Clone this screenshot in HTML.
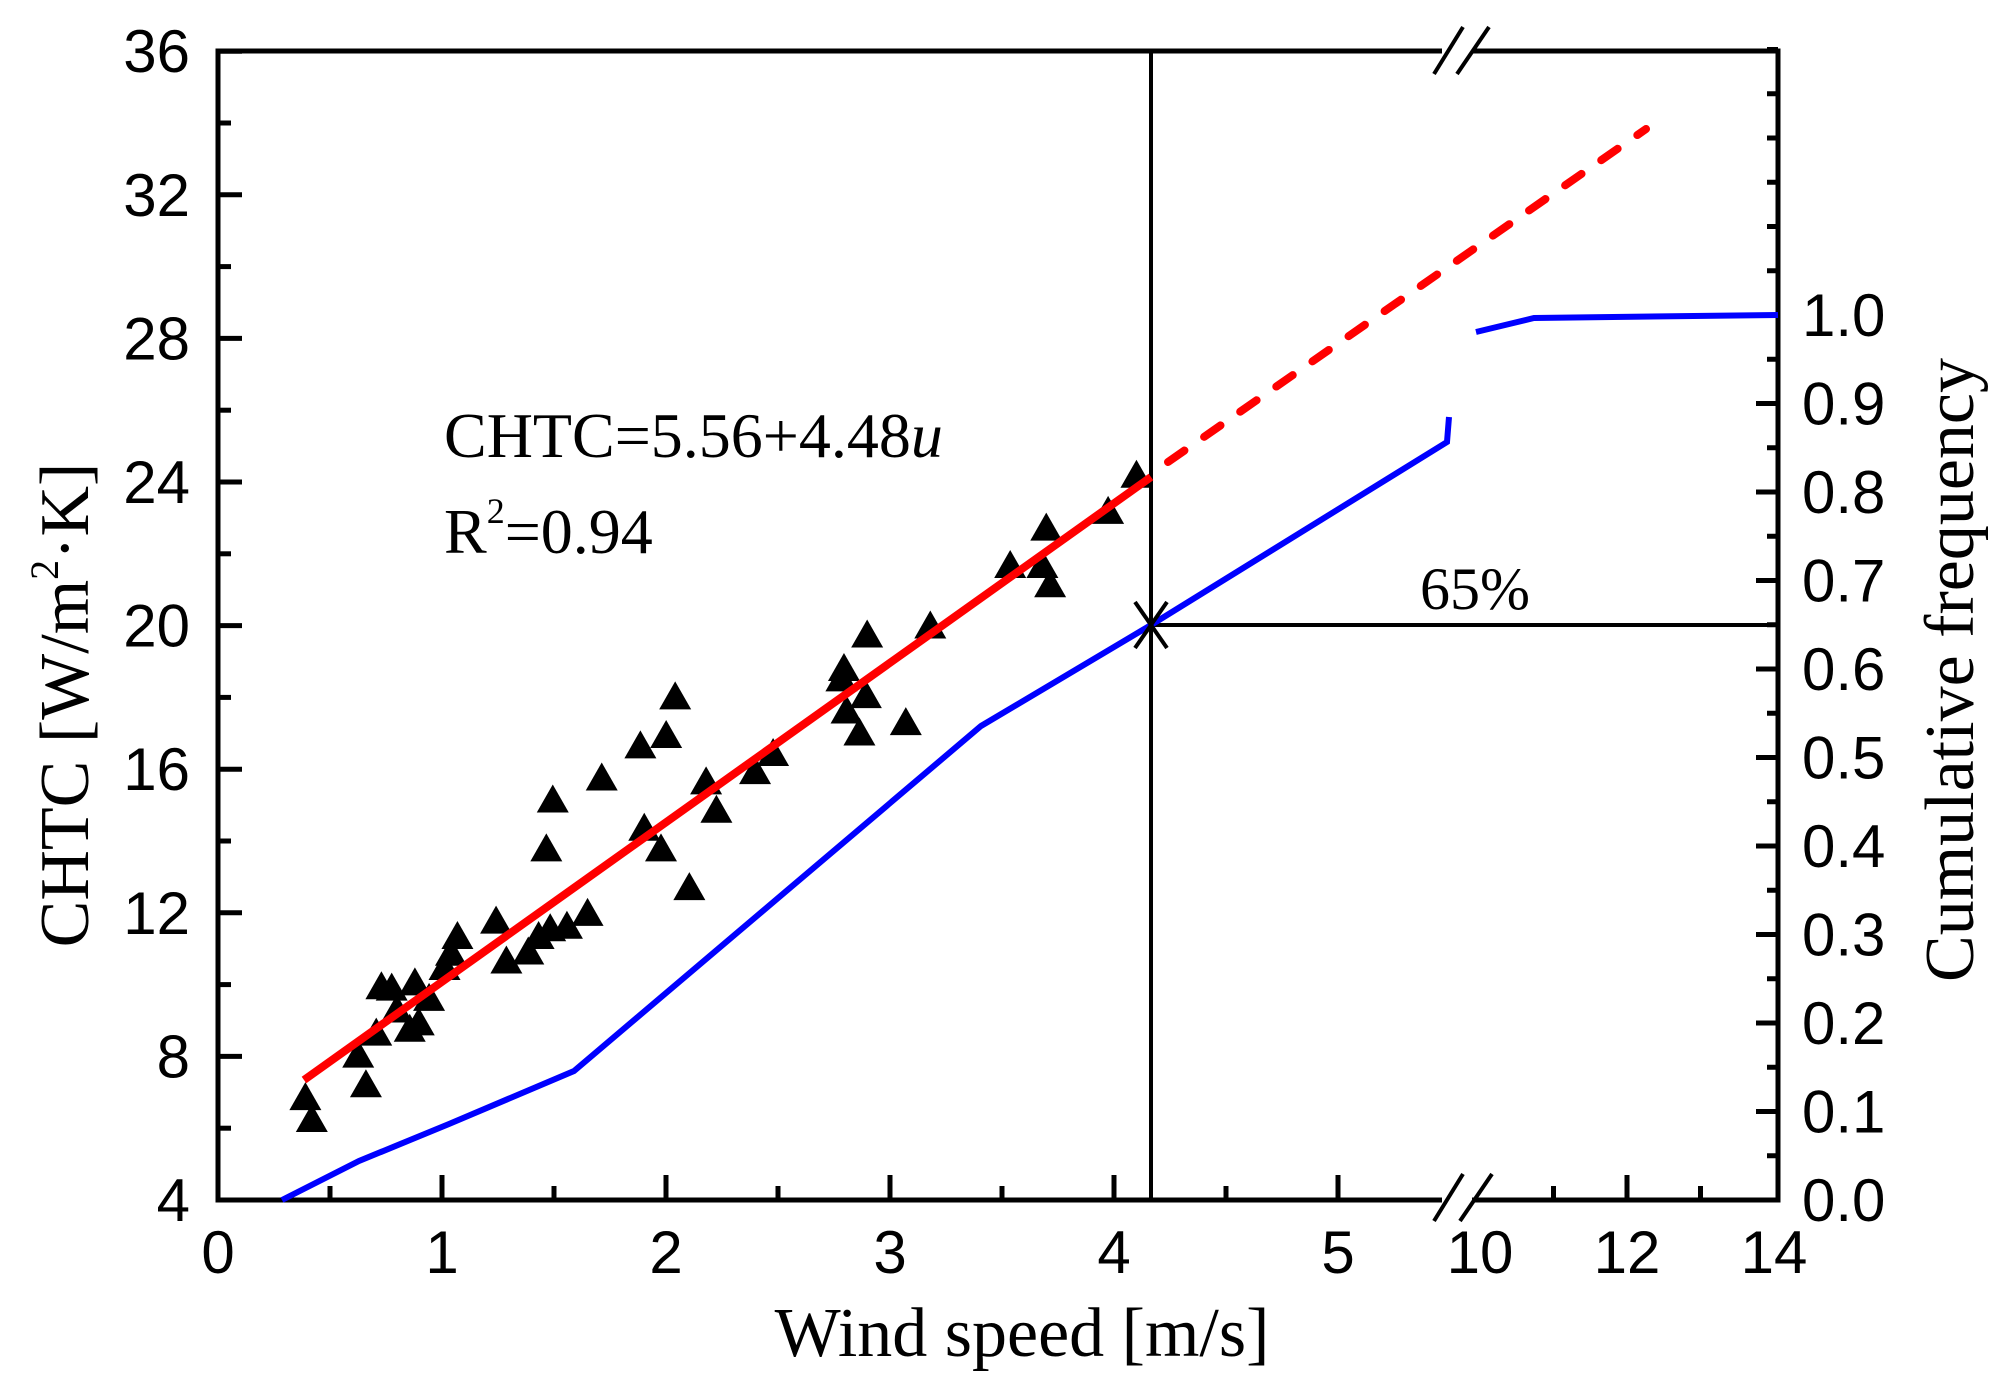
<!DOCTYPE html>
<html><head><meta charset="utf-8"><style>
html,body{margin:0;padding:0;background:#fff;}
svg{display:block;}
text{font-family:"Liberation Sans",Arial,sans-serif;fill:#000;}
.serif{font-family:"Liberation Serif","Times New Roman",serif;}
</style></head><body>
<svg id="s" width="2010" height="1389" viewBox="0 0 2010 1389" xmlns="http://www.w3.org/2000/svg">
<rect width="2010" height="1389" fill="#fff"/>
<g id="ticks" stroke="#000" stroke-width="5"></g>
<path d="M218,51 H1778 V1200 H218 Z" fill="none" stroke="#000" stroke-width="5"/>
<rect x="1442" y="40" width="30" height="22" fill="#fff"/>
<rect x="1442" y="1190" width="30" height="22" fill="#fff"/>
<g stroke="#000" stroke-width="4">
<line x1="1434" y1="74" x2="1463" y2="27"/><line x1="1457" y1="74" x2="1489" y2="27"/>
<line x1="1434" y1="1221" x2="1463" y2="1174"/><line x1="1460" y1="1221" x2="1492" y2="1174"/>
</g>
<line x1="1151" y1="51" x2="1151" y2="1200" stroke="#000" stroke-width="4"/>
<line x1="1151" y1="625" x2="1778" y2="625" stroke="#000" stroke-width="4"/>
<polyline points="282,1200 359,1161 449,1124 574,1071 981,726 1151,625 1447,442 1449,417" fill="none" stroke="#0000ff" stroke-width="6"/>
<polyline points="1476,332 1534,318 1778,315" fill="none" stroke="#0000ff" stroke-width="6"/>
<g id="tri" fill="#000"></g>
<line x1="304" y1="1080" x2="1151" y2="477" stroke="#ff0000" stroke-width="8"/>
<line x1="1168" y1="462" x2="1646" y2="129" stroke="#ff0000" stroke-width="8" stroke-dasharray="20 24" stroke-linecap="round"/>
<g stroke="#000" stroke-width="4"><line x1="1135" y1="602" x2="1167" y2="648"/><line x1="1135" y1="648" x2="1167" y2="602"/></g>
<g font-size="60" text-anchor="end" id="yl"></g>
<g font-size="60" text-anchor="middle" id="xl"></g>
<g font-size="60" text-anchor="start" id="rl"></g>
<text class="serif" x="444" y="457" font-size="64">CHTC=5.56+4.48<tspan font-style="italic">u</tspan></text>
<text class="serif" x="444" y="553" font-size="64">R<tspan font-size="36" dy="-30">2</tspan><tspan dy="30">=0.94</tspan></text>
<text class="serif" x="1420" y="609" font-size="60">65%</text>
<text class="serif" x="1022" y="1356" font-size="70" text-anchor="middle">Wind speed [m/s]</text>
<text class="serif" transform="translate(88,705) rotate(-90)" font-size="70" text-anchor="middle">CHTC [W/m<tspan font-size="40" dy="-30">2</tspan><tspan dy="30">·K]</tspan></text>
<text class="serif" transform="translate(1973,670) rotate(-90)" font-size="70" text-anchor="middle">Cumulative frequency</text>
</svg>
<script>
var NS="http://www.w3.org/2000/svg";
function el(p,n,a,t){var e=document.createElementNS(NS,n);for(var k in a)e.setAttribute(k,a[k]);if(t!=null)e.textContent=t;document.getElementById(p).appendChild(e);}
var L=218,B=1200,R=1778;
for(var v=4;v<=36;v+=2){var y=B-(v-4)*35.9;var maj=(v%4==0);el("ticks","line",{x1:L,y1:y,x2:L+(maj?24:13),y2:y});if(maj)el("yl","text",{x:190,y:y+21},v);}
for(var u=0;u<=5.01;u+=0.5){var x=L+u*224;var maj=Math.abs(u-Math.round(u))<0.01;el("ticks","line",{x1:x,y1:B,x2:x,y2:B-(maj?25:14)});if(maj)el("xl","text",{x:x,y:1273},Math.round(u));}
for(var w=10;w<=14;w+=1){var x=1480+73.5*(w-10);var maj=(w%2==0);if(w>10&&w<14)el("ticks","line",{x1:x,y1:B,x2:x,y2:B-(maj?25:14)});if(maj)el("xl","text",{x:x,y:1273},w);}
for(var i=0;i<=26;i++){var c=i*0.05;var y=B-c*885;var maj=(i%2==0&&i<=20);el("ticks","line",{x1:R,y1:y,x2:R-(maj?22:11),y2:y});if(maj)el("rl","text",{x:1802,y:y+21},c.toFixed(1));}
var P=[[237,853],[242,870],[278,820],[284,843],[292,803],[296,767],[304,768],[308,785],[318,800],[322,764],[325,795],[333,776],[345,752],[350,741],[355,728],[385,716],[393,747],[410,740],[418,728],[424,660],[427,722],[429,622],[440,720],[456,710],[467,605],[497,580],[500,644],[513,660],[517,572],[524,542],[535,690],[548,608],[556,630],[586,600],[600,586],[653,528],[655,520],[657,553],[667,570],[672,541],[673,494],[703,562],[722,487],[784,440],[809,440],[812,411],[815,455],[860,398],[882,370]];
P.forEach(function(p){var x=p[0]*1.2885,y=p[1]*1.2885;el("tri","polygon",{points:x+","+(y-17)+" "+(x-16)+","+(y+11)+" "+(x+16)+","+(y+11)});});
</script>
</body></html>
